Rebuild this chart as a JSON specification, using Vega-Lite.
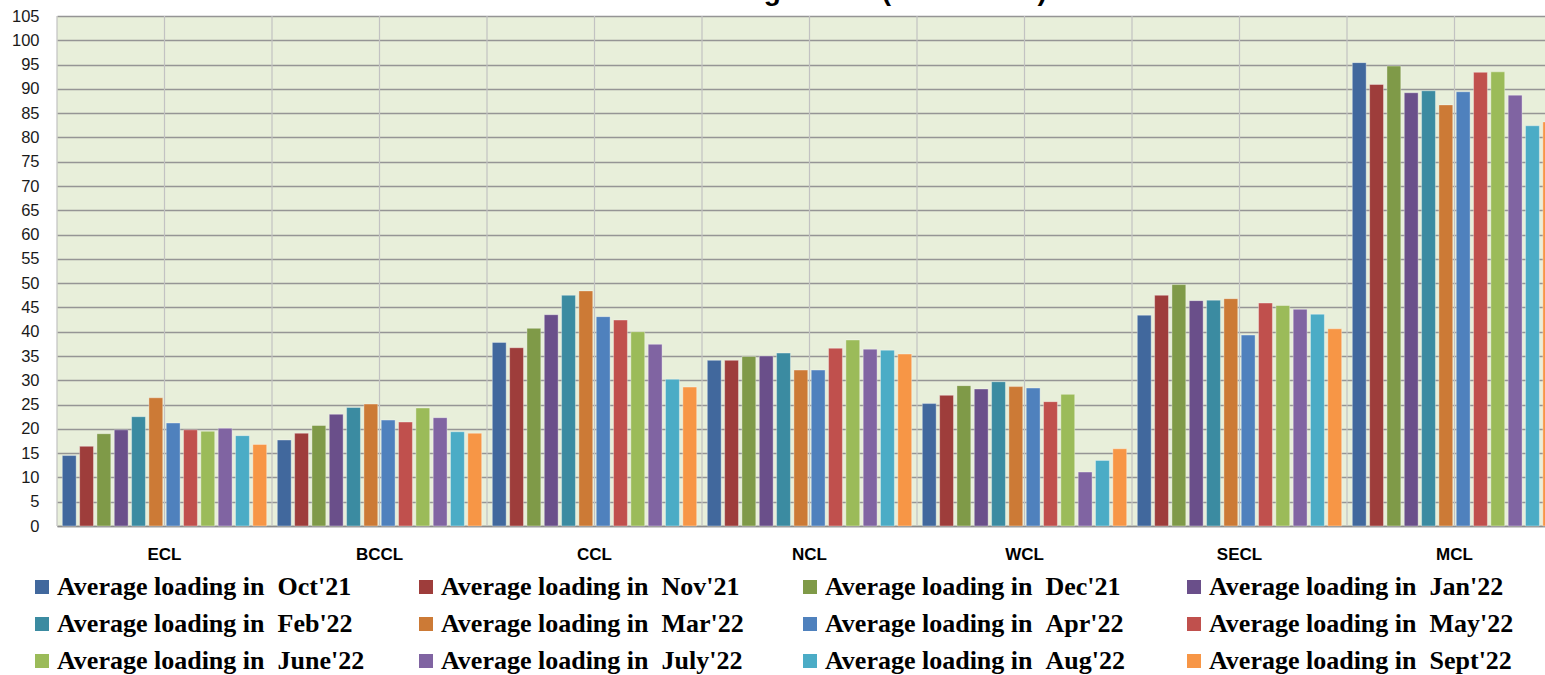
{
  "$schema": "https://vega.github.io/schema/vega-lite/v6.json",
  "autosize": "none",
  "padding": {"left": 57, "top": 16, "right": 0, "bottom": 149},
  "width": 1505,
  "height": 510,
  "background": "#ffffff",
  "title": {
    "text": "Actual Rakes Loading Status (All Sectors)",
    "font": "Liberation Sans",
    "fontSize": 28,
    "fontWeight": "bold",
    "color": "#000000",
    "anchor": "middle",
    "frame": "group",
    "baseline": "alphabetic",
    "offset": 2,
    "dy": 22,
    "dx": -42
  },
  "config": {
    "view": {"fill": "#E8EFDA", "stroke": null}
  },
  "datasets": {
    "groups": [
      {"company": "ECL"}, {"company": "BCCL"}, {"company": "CCL"}, {"company": "NCL"},
      {"company": "WCL"}, {"company": "SECL"}, {"company": "MCL"}
    ],
    "loading": [
      {"company": "ECL", "month": "Oct'21", "value": 14.5},
      {"company": "ECL", "month": "Nov'21", "value": 16.4},
      {"company": "ECL", "month": "Dec'21", "value": 19.0},
      {"company": "ECL", "month": "Jan'22", "value": 19.8},
      {"company": "ECL", "month": "Feb'22", "value": 22.5},
      {"company": "ECL", "month": "Mar'22", "value": 26.4},
      {"company": "ECL", "month": "Apr'22", "value": 21.2},
      {"company": "ECL", "month": "May'22", "value": 19.8},
      {"company": "ECL", "month": "June'22", "value": 19.5},
      {"company": "ECL", "month": "July'22", "value": 20.1},
      {"company": "ECL", "month": "Aug'22", "value": 18.6},
      {"company": "ECL", "month": "Sept'22", "value": 16.8},
      {"company": "BCCL", "month": "Oct'21", "value": 17.7},
      {"company": "BCCL", "month": "Nov'21", "value": 19.1},
      {"company": "BCCL", "month": "Dec'21", "value": 20.7},
      {"company": "BCCL", "month": "Jan'22", "value": 23.0},
      {"company": "BCCL", "month": "Feb'22", "value": 24.4},
      {"company": "BCCL", "month": "Mar'22", "value": 25.1},
      {"company": "BCCL", "month": "Apr'22", "value": 21.8},
      {"company": "BCCL", "month": "May'22", "value": 21.4},
      {"company": "BCCL", "month": "June'22", "value": 24.3},
      {"company": "BCCL", "month": "July'22", "value": 22.3},
      {"company": "BCCL", "month": "Aug'22", "value": 19.4},
      {"company": "BCCL", "month": "Sept'22", "value": 19.1},
      {"company": "CCL", "month": "Oct'21", "value": 37.8},
      {"company": "CCL", "month": "Nov'21", "value": 36.7},
      {"company": "CCL", "month": "Dec'21", "value": 40.7},
      {"company": "CCL", "month": "Jan'22", "value": 43.5},
      {"company": "CCL", "month": "Feb'22", "value": 47.5},
      {"company": "CCL", "month": "Mar'22", "value": 48.4},
      {"company": "CCL", "month": "Apr'22", "value": 43.1},
      {"company": "CCL", "month": "May'22", "value": 42.4},
      {"company": "CCL", "month": "June'22", "value": 40.0},
      {"company": "CCL", "month": "July'22", "value": 37.4},
      {"company": "CCL", "month": "Aug'22", "value": 30.2},
      {"company": "CCL", "month": "Sept'22", "value": 28.6},
      {"company": "NCL", "month": "Oct'21", "value": 34.1},
      {"company": "NCL", "month": "Nov'21", "value": 34.1},
      {"company": "NCL", "month": "Dec'21", "value": 34.9},
      {"company": "NCL", "month": "Jan'22", "value": 35.0},
      {"company": "NCL", "month": "Feb'22", "value": 35.6},
      {"company": "NCL", "month": "Mar'22", "value": 32.1},
      {"company": "NCL", "month": "Apr'22", "value": 32.1},
      {"company": "NCL", "month": "May'22", "value": 36.6},
      {"company": "NCL", "month": "June'22", "value": 38.3},
      {"company": "NCL", "month": "July'22", "value": 36.4},
      {"company": "NCL", "month": "Aug'22", "value": 36.2},
      {"company": "NCL", "month": "Sept'22", "value": 35.4},
      {"company": "WCL", "month": "Oct'21", "value": 25.2},
      {"company": "WCL", "month": "Nov'21", "value": 26.9},
      {"company": "WCL", "month": "Dec'21", "value": 28.9},
      {"company": "WCL", "month": "Jan'22", "value": 28.2},
      {"company": "WCL", "month": "Feb'22", "value": 29.7},
      {"company": "WCL", "month": "Mar'22", "value": 28.7},
      {"company": "WCL", "month": "Apr'22", "value": 28.4},
      {"company": "WCL", "month": "May'22", "value": 25.6},
      {"company": "WCL", "month": "June'22", "value": 27.1},
      {"company": "WCL", "month": "July'22", "value": 11.1},
      {"company": "WCL", "month": "Aug'22", "value": 13.5},
      {"company": "WCL", "month": "Sept'22", "value": 15.9},
      {"company": "SECL", "month": "Oct'21", "value": 43.4},
      {"company": "SECL", "month": "Nov'21", "value": 47.5},
      {"company": "SECL", "month": "Dec'21", "value": 49.7},
      {"company": "SECL", "month": "Jan'22", "value": 46.4},
      {"company": "SECL", "month": "Feb'22", "value": 46.5},
      {"company": "SECL", "month": "Mar'22", "value": 46.8},
      {"company": "SECL", "month": "Apr'22", "value": 39.3},
      {"company": "SECL", "month": "May'22", "value": 45.9},
      {"company": "SECL", "month": "June'22", "value": 45.4},
      {"company": "SECL", "month": "July'22", "value": 44.6},
      {"company": "SECL", "month": "Aug'22", "value": 43.6},
      {"company": "SECL", "month": "Sept'22", "value": 40.6},
      {"company": "MCL", "month": "Oct'21", "value": 95.4},
      {"company": "MCL", "month": "Nov'21", "value": 90.9},
      {"company": "MCL", "month": "Dec'21", "value": 94.7},
      {"company": "MCL", "month": "Jan'22", "value": 89.2},
      {"company": "MCL", "month": "Feb'22", "value": 89.6},
      {"company": "MCL", "month": "Mar'22", "value": 86.7},
      {"company": "MCL", "month": "Apr'22", "value": 89.4},
      {"company": "MCL", "month": "May'22", "value": 93.4},
      {"company": "MCL", "month": "June'22", "value": 93.5},
      {"company": "MCL", "month": "July'22", "value": 88.7},
      {"company": "MCL", "month": "Aug'22", "value": 82.4},
      {"company": "MCL", "month": "Sept'22", "value": 83.2}
    ]
  },
  "layer": [
    {
      "data": {"name": "groups"},
      "mark": {"type": "rule", "color": "#C2C2C2", "strokeWidth": 1.2},
      "encoding": {
        "x": {
          "field": "company", "type": "nominal", "bandPosition": 0,
          "sort": ["ECL", "BCCL", "CCL", "NCL", "WCL", "SECL", "MCL"],
          "scale": {"paddingInner": 0, "paddingOuter": 0},
          "axis": {
            "title": null, "labelAngle": 0, "ticks": false, "grid": false,
            "domain": true, "domainColor": "#8C8C8C", "domainWidth": 1.5,
            "labelFont": "Liberation Sans", "labelFontSize": 17, "labelFontWeight": "bold",
            "labelColor": "#000000", "labelPadding": 20
          }
        }
      }
    },
    {
      "data": {"name": "groups"},
      "mark": {"type": "rule", "color": "#C2C2C2", "strokeWidth": 1.2},
      "encoding": {
        "x": {"field": "company", "type": "nominal", "bandPosition": 0.5,
              "sort": ["ECL", "BCCL", "CCL", "NCL", "WCL", "SECL", "MCL"]}
      }
    },
    {
      "data": {"name": "loading"},
      "mark": {"type": "bar", "stroke": "#ffffff", "strokeOpacity": 0.35, "strokeWidth": 1},
      "encoding": {
        "x": {"field": "company", "type": "nominal",
              "sort": ["ECL", "BCCL", "CCL", "NCL", "WCL", "SECL", "MCL"]},
        "xOffset": {
          "field": "month", "type": "nominal",
          "sort": ["Oct'21", "Nov'21", "Dec'21", "Jan'22", "Feb'22", "Mar'22", "Apr'22", "May'22", "June'22", "July'22", "Aug'22", "Sept'22"],
          "scale": {"paddingInner": 0.2, "paddingOuter": 0.306}
        },
        "y": {
          "field": "value", "type": "quantitative",
          "scale": {"domain": [0, 105], "nice": false},
          "axis": {
            "title": null,
            "values": [0, 5, 10, 15, 20, 25, 30, 35, 40, 45, 50, 55, 60, 65, 70, 75, 80, 85, 90, 95, 100, 105],
            "domain": false, "ticks": false,
            "grid": true, "gridColor": "#959595", "gridWidth": 1.3,
            "labelFont": "Liberation Sans", "labelFontSize": 16.5, "labelColor": "#1a1a1a",
            "labelPadding": 18
          }
        },
        "color": {
          "field": "month", "type": "nominal",
          "scale": {
            "domain": ["Oct'21", "Nov'21", "Dec'21", "Jan'22", "Feb'22", "Mar'22", "Apr'22", "May'22", "June'22", "July'22", "Aug'22", "Sept'22"],
            "range": ["#41689D", "#9E3D3B", "#7F9A48", "#6A4F8A", "#3B8BA1", "#CC7A36", "#4F81BD", "#C0504D", "#9BBB59", "#8064A2", "#4BACC6", "#F79646"]
          },
          "legend": {
            "orient": "none", "legendX": -28, "legendY": 558,
            "title": null, "columns": 4, "direction": "horizontal", "gridAlign": "all",
            "columnPadding": 48, "rowPadding": 11,
            "symbolType": "square", "symbolSize": 196, "symbolStrokeWidth": 0,
            "labelFont": "Liberation Serif", "labelFontSize": 26, "labelFontWeight": "bold",
            "labelColor": "#000000", "labelOffset": 2, "labelLimit": 400,
            "labelExpr": "'Average loading in \u00a0' + datum.label"
          }
        }
      }
    }
  ]
}
